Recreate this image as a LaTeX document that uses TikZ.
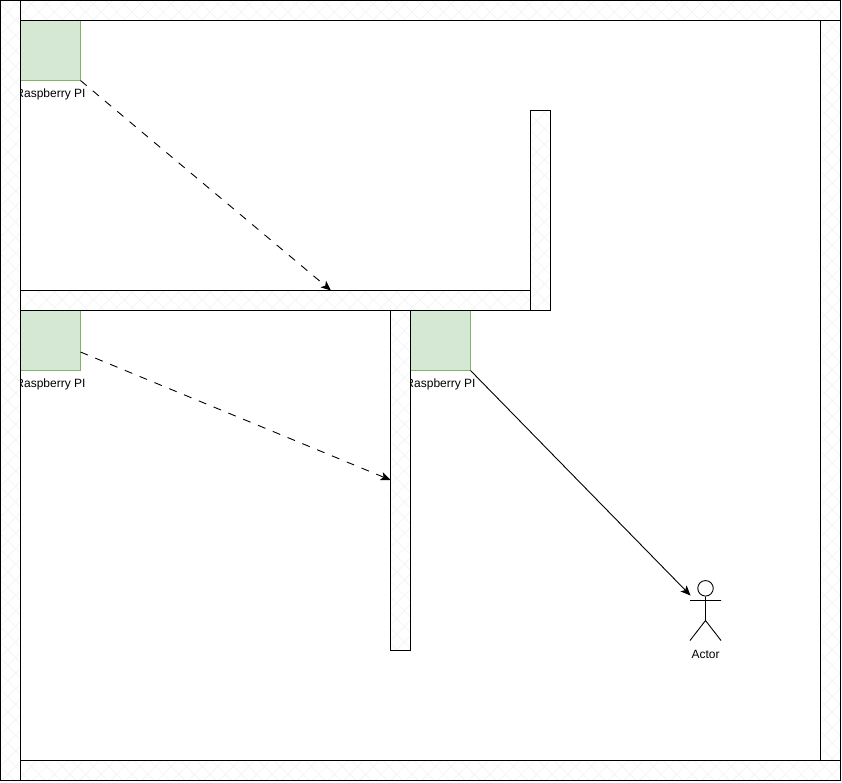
\documentclass[tikz,border=0pt]{standalone}
\usepackage{fontspec}
\setmainfont{Liberation Sans}
\usetikzlibrary{patterns.meta,arrows.meta}
\definecolor{hatch}{HTML}{F2F2F2}
\definecolor{pigreen}{HTML}{D5E8D4}
\definecolor{piline}{HTML}{82B366}
\tikzset{
  wall/.style={draw=black,line width=.9pt,anchor=north west,inner sep=0pt,outer sep=0pt,
    preaction={fill=white},
    preaction={pattern={Lines[angle=45,distance=11pt,line width=.5pt]},pattern color=hatch},
    preaction={pattern={Lines[angle=-45,distance=11pt,line width=.5pt]},pattern color=hatch}},
  pibox/.style={draw=piline,line width=.8pt,fill=pigreen,minimum width=60pt,minimum height=60pt,anchor=north west,inner sep=0pt,outer sep=0pt},
  pilabel/.style={font=\fontsize{12}{14}\selectfont,text=black,inner sep=0pt},
  flow/.style={draw=black,line width=.9pt,-{Stealth[length=10pt,width=8.5pt,inset=2.5pt]}},
  stick/.style={draw=black,line width=.9pt},
}
\begin{document}
\begin{tikzpicture}[x=1pt,y=-1pt]
\useasboundingbox (0,0) rectangle (842,782);
\fill[white] (0,0) rectangle (842,782);
% sensors
\node[pibox] (pa) at (20.5,20.5) {};
\node[pibox] (pb) at (20.5,310.5) {};
\node[pibox] (pc) at (410.5,310.5) {};
\node[pilabel] (la) at (50.5,94.5) {Raspberry PI};
\node[pilabel] (lb) at (50.5,384.5) {Raspberry PI};
\node[pilabel] (lc) at (440.5,384.5) {Raspberry PI};
% walls
\node[wall,minimum width=840pt,minimum height=20pt] (wtop) at (0.5,0.5) {};
\node[wall,minimum width=840pt,minimum height=20pt] (wbot) at (0.5,760.5) {};
\node[wall,minimum width=20pt,minimum height=780pt] (wleft) at (0.5,0.5) {};
\node[wall,minimum width=20pt,minimum height=740pt] (wright) at (820.5,20.5) {};
\node[wall,minimum width=510pt,minimum height=20pt] (wmid) at (20.5,290.5) {};
\node[wall,minimum width=20pt,minimum height=200pt] (wup) at (530.5,110.5) {};
\node[wall,minimum width=20pt,minimum height=340pt] (wdown) at (390.5,310.5) {};
% actor
\node[circle,stick,minimum size=15.5pt,inner sep=0pt] (head) at (705.5,588.3) {};
\coordinate (hip) at (705.5,620.5);
\coordinate (arml) at (690,600.5);
\coordinate (armr) at (721,600.5);
\coordinate (footl) at (690,640.5);
\coordinate (footr) at (721,640.5);
\draw[stick] (head.south) -- (hip) (arml) -- (armr) (footl) -- (hip) -- (footr);
\node[pilabel] (actor) at (705.5,654) {Actor};
% connectors
\coordinate (ta) at (331,290.5);
\coordinate (tb) at (390.5,480);
\coordinate (tc) at (690.5,595.5);
\draw[flow,dash pattern=on 8pt off 8pt] (pa.south east) -- (ta);
\draw[flow,dash pattern=on 8pt off 8pt] (pb.east |- 0,352) -- (tb);
\draw[flow] (pc.south east) -- (tc);
\end{tikzpicture}
\end{document}
